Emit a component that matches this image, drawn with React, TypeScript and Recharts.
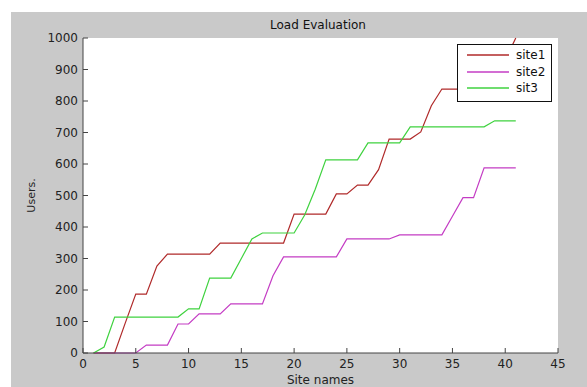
import { LineChart, Line, XAxis, YAxis, CartesianGrid, Legend } from "recharts"

const sites = [
  1, 2, 3, 4, 5, 6, 7, 8, 9, 10, 11, 12, 13, 14, 15, 16, 17, 18, 19, 20, 21,
  22, 23, 24, 25, 26, 27, 28, 29, 30, 31, 32, 33, 34, 35, 36, 37, 38, 39, 40, 41,
]

const site1 = [
  0, 0, 0, 95, 187, 187, 276, 314, 314, 314, 314, 314, 349, 349, 349, 349, 349,
  349, 349, 441, 441, 441, 441, 505, 505, 533, 533, 582, 679, 679, 679, 702, 785,
  838, 838, 838, 838, 838, 860, 930, 1000,
]

const site2 = [
  0, 0, 0, 0, 0, 25, 25, 25, 92, 92, 124, 124, 124, 156, 156, 156, 156, 245, 305,
  305, 305, 305, 305, 305, 362, 362, 362, 362, 362, 375, 375, 375, 375, 375, 434,
  493, 493, 588, 588, 588, 588,
]

const sit3 = [
  0, 19, 114, 114, 114, 114, 114, 114, 114, 140, 140, 238, 238, 238, 300, 362,
  381, 381, 381, 381, 438, 520, 613, 613, 613, 613, 667, 667, 667, 667, 718, 718,
  718, 718, 718, 718, 718, 718, 737, 737, 737,
]

const seriesNames = ["site1", "site2", "sit3"]
const xTicks = [0, 5, 10, 15, 20, 25, 30, 35, 40, 45]
const yTicks = [0, 100, 200, 300, 400, 500, 600, 700, 800, 900, 1000]

const data = sites.map((x, i) => ({
  x,
  site1: site1[i],
  site2: site2[i],
  sit3: sit3[i],
}))

const FONT = "'DejaVu Sans', sans-serif"
const AXIS = "#444"
const tickStyle = { fontSize: 12, fill: "#222", fontFamily: FONT }

function LegendBox(props: any) {
  const items = [...(props.payload || [])].sort(
    (a: any, b: any) => seriesNames.indexOf(a.value) - seriesNames.indexOf(b.value)
  )
  return (
    <div
      style={{
        width: 93,
        height: 54,
        border: "1px solid #111",
        background: "#fff",
        fontFamily: FONT,
        fontSize: 12,
        color: "#111",
        paddingTop: 2,
        boxSizing: "content-box",
      }}
    >
      {items.map((entry: any) => (
        <div
          key={entry.value}
          style={{ display: "flex", alignItems: "center", height: 16.5 }}
        >
          <svg width={58} height={10}>
            <line x1={9} x2={51} y1={5} y2={5} stroke={entry.color} strokeWidth={1.3} />
          </svg>
          <span>{entry.value}</span>
        </div>
      ))}
    </div>
  )
}

export default function App() {
  return (
    <div
      style={{
        position: "absolute",
        left: 0,
        top: 0,
        width: 587,
        height: 387,
        background: "#fff",
        overflow: "hidden",
      }}
    >
      <div
        style={{
          position: "absolute",
          left: 11,
          top: 12,
          width: 576,
          height: 375,
          background: "#c9c9c9",
        }}
      />
      <div
        style={{
          position: "absolute",
          left: 218,
          top: 18,
          width: 200,
          textAlign: "center",
          fontFamily: FONT,
          fontSize: 12,
          lineHeight: "14px",
          color: "#111",
        }}
      >
        Load Evaluation
      </div>
      <div style={{ position: "absolute", left: 0, top: 0 }}>
        <LineChart
          width={587}
          height={387}
          data={data}
          margin={{ top: 38, right: 29, bottom: 0, left: 0 }}
        >
          <CartesianGrid fill="#ffffff" fillOpacity={1} horizontal={false} vertical={false} />
          <XAxis
            dataKey="x"
            type="number"
            domain={[0, 45]}
            ticks={xTicks}
            height={34}
            tickSize={-5}
            tickMargin={11}
            tick={tickStyle}
            stroke={AXIS}
            interval={0}
            label={{
              value: "Site names",
              position: "insideBottom",
              offset: 3,
              style: { fontSize: 12, fill: "#222", fontFamily: FONT },
            }}
          />
          <XAxis
            xAxisId="top"
            orientation="top"
            dataKey="x"
            type="number"
            domain={[0, 45]}
            ticks={xTicks}
            height={0}
            tickSize={-5}
            tickFormatter={() => ""}
            stroke={AXIS}
            interval={0}
          />
          <YAxis
            type="number"
            domain={[0, 1000]}
            ticks={yTicks}
            width={83}
            tickSize={-5}
            tickMargin={10}
            tick={tickStyle}
            stroke={AXIS}
            interval={0}
            label={{
              value: "Users.",
              angle: -90,
              position: "insideLeft",
              offset: 31,
              style: { fontSize: 11, fill: "#222", fontFamily: FONT, textAnchor: "middle" },
            }}
          />
          <YAxis
            yAxisId="right"
            orientation="right"
            type="number"
            domain={[0, 1000]}
            ticks={yTicks}
            width={0}
            tickSize={-5}
            tickFormatter={() => ""}
            stroke={AXIS}
            interval={0}
          />
          <Legend
            layout="vertical"
            align="center"
            verticalAlign="middle"
            content={<LegendBox />}
            wrapperStyle={{ left: 457, top: 44, width: 95, height: 56 }}
          />
          <Line
            type="linear"
            dataKey="site1"
            name="site1"
            stroke="#b02a2a"
            strokeWidth={1.2}
            dot={false}
            isAnimationActive={false}
          />
          <Line
            type="linear"
            dataKey="site2"
            name="site2"
            stroke="#c43cc4"
            strokeWidth={1.2}
            dot={false}
            isAnimationActive={false}
          />
          <Line
            type="linear"
            dataKey="sit3"
            name="sit3"
            stroke="#3fd23f"
            strokeWidth={1.2}
            dot={false}
            isAnimationActive={false}
          />
        </LineChart>
      </div>
    </div>
  )
}
